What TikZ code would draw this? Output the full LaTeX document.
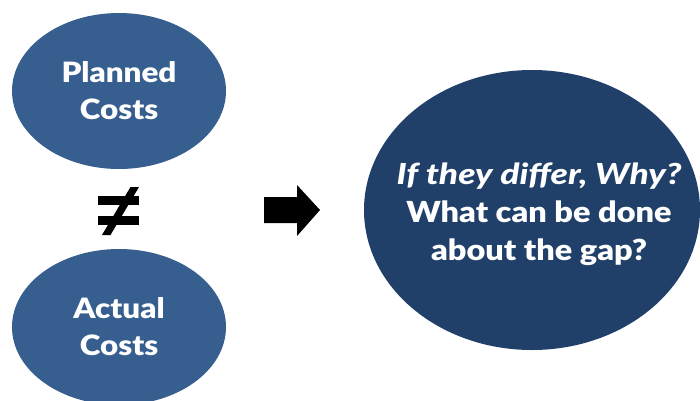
\documentclass[tikz,border=0pt]{standalone}
\usepackage{fontspec}
\setmainfont{Lato}[BoldFont={Lato Black},BoldItalicFont={Lato Black Italic},
  BoldFeatures={FakeStretch=1.12},BoldItalicFeatures={FakeStretch=1.22}]
\usetikzlibrary{shapes.geometric}
\definecolor{lightblue}{RGB}{54,94,142}
\definecolor{darkblue}{RGB}{32,64,106}
\tikzset{
  bubble/.style={ellipse, fill=lightblue, draw=none, inner sep=0pt,
    minimum width=214pt, minimum height=156pt, text=white,
    font=\bfseries\fontsize{28}{37}\selectfont, align=center},
  bigbubble/.style={ellipse, fill=darkblue, draw=none, inner sep=0pt,
    minimum width=336pt, minimum height=280pt},
  bigtext/.style={text=white, font=\bfseries\fontsize{29}{38}\selectfont, align=center},
  mark fill/.style={fill=black, draw=none}
}
\begin{document}
\begin{tikzpicture}[x=1pt,y=-1pt]
\useasboundingbox (0,0) rectangle (700,400);
\clip (0,0) rectangle (700,400);
\node[bubble] (planned) at (119,91) {Planned\\Costs};
\node[bubble] (actual) at (119,327) {Actual\\Costs};
\node[bigbubble] (question) at (532,210) {};
\node[bigtext] (qtext) at ([xshift=7,yshift=-4]question.center) {\itshape If they differ, Why?\\What can be done\\about the gap?};
% not-equal sign
\coordinate (neq) at (118.5,210.5);
\fill[mark fill] ([shift={(-20.5,-14.5)}]neq) rectangle ([shift={(20.5,-5.5)}]neq);
\fill[mark fill] ([shift={(-20.5,5.5)}]neq) rectangle ([shift={(20.5,14.5)}]neq);
\fill[mark fill] ([shift={(12,-23.5)}]neq) -- ([shift={(20.5,-23.5)}]neq) -- ([shift={(-8,24.5)}]neq) -- ([shift={(-16.5,24.5)}]neq) -- cycle;
% block arrow
\coordinate (arr) at (264,210);
\fill[mark fill] (arr) ++(0,-13) -- ++(33,0) -- ++(0,-12) -- ++(23,25) -- ++(-23,26) -- ++(0,-13) -- ++(-33,0) -- cycle;
\end{tikzpicture}
\end{document}
